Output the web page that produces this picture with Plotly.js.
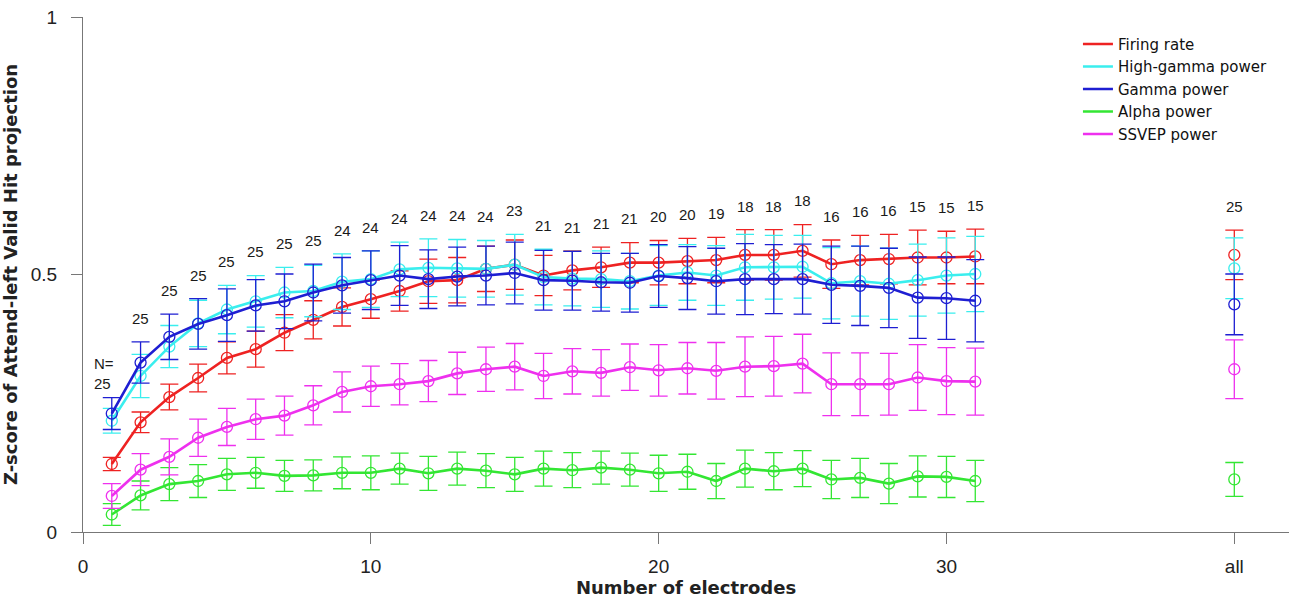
<!DOCTYPE html>
<html>
<head>
<meta charset="utf-8">
<script src="https://cdn.plot.ly/plotly-3.0.1.min.js"></script>
<style>html,body{margin:0;padding:0;background:#fff;}#chart{width:1289px;height:598px;}</style>
</head>
<body>
<div id="chart"></div>
<script>
// ---- data ----
var electrodes = [1,2,3,4,5,6,7,8,9,10,11,12,13,14,15,16,17,18,19,20,21,22,23,24,25,26,27,28,29,30,31];
var allX = 40;
var seriesNames = ['Firing rate','High-gamma power','Gamma power','Alpha power','SSVEP power'];
var seriesColors = ['#ee2222','#3aeeee','#1e1ed2','#33e633','#ee30ee'];

var firingMean = [0.132,0.213,0.262,0.299,0.338,0.355,0.387,0.412,0.437,0.452,0.468,0.487,0.489,0.511,0.519,0.498,0.508,0.514,0.523,0.523,0.526,0.528,0.538,0.538,0.546,0.520,0.528,0.530,0.533,0.533,0.535];
var firingErr  = [0.013,0.020,0.025,0.027,0.031,0.035,0.035,0.037,0.037,0.037,0.039,0.043,0.044,0.044,0.048,0.039,0.038,0.039,0.039,0.043,0.044,0.044,0.049,0.049,0.051,0.047,0.048,0.048,0.053,0.051,0.053];
var hgammaMean = [0.216,0.303,0.360,0.405,0.432,0.448,0.465,0.468,0.486,0.491,0.510,0.513,0.512,0.511,0.519,0.495,0.492,0.491,0.487,0.498,0.504,0.498,0.514,0.514,0.515,0.483,0.487,0.482,0.489,0.498,0.501];
var hgammaErr  = [0.024,0.042,0.041,0.045,0.047,0.050,0.049,0.050,0.054,0.055,0.053,0.056,0.056,0.055,0.059,0.054,0.053,0.055,0.054,0.058,0.054,0.058,0.064,0.062,0.061,0.069,0.068,0.069,0.070,0.073,0.073];
var gammaMean  = [0.230,0.329,0.379,0.404,0.421,0.440,0.448,0.465,0.479,0.489,0.498,0.491,0.496,0.498,0.503,0.489,0.488,0.485,0.484,0.497,0.493,0.487,0.491,0.491,0.491,0.480,0.478,0.474,0.455,0.454,0.449];
var gammaErr   = [0.031,0.040,0.044,0.049,0.051,0.050,0.053,0.055,0.054,0.057,0.058,0.057,0.057,0.057,0.060,0.058,0.057,0.056,0.057,0.061,0.061,0.064,0.069,0.067,0.068,0.075,0.077,0.077,0.079,0.080,0.080];
var alphaMean  = [0.034,0.071,0.093,0.099,0.112,0.115,0.109,0.110,0.115,0.115,0.123,0.114,0.123,0.119,0.112,0.123,0.120,0.125,0.121,0.114,0.117,0.099,0.123,0.118,0.123,0.102,0.105,0.094,0.108,0.107,0.099];
var alphaErr   = [0.021,0.028,0.032,0.032,0.031,0.030,0.030,0.030,0.031,0.033,0.030,0.033,0.032,0.033,0.033,0.034,0.034,0.032,0.032,0.035,0.034,0.034,0.036,0.036,0.035,0.037,0.038,0.039,0.040,0.040,0.040];
var ssvepMean  = [0.070,0.121,0.146,0.183,0.204,0.219,0.226,0.246,0.272,0.283,0.287,0.293,0.308,0.316,0.321,0.303,0.312,0.309,0.320,0.314,0.318,0.313,0.321,0.322,0.327,0.287,0.287,0.287,0.300,0.293,0.292];
var ssvepErr   = [0.024,0.031,0.035,0.036,0.036,0.039,0.038,0.038,0.039,0.039,0.040,0.040,0.041,0.043,0.045,0.044,0.044,0.045,0.045,0.050,0.050,0.055,0.058,0.058,0.057,0.061,0.061,0.060,0.064,0.065,0.065];

// "all" electrodes values
var allMean = [0.538,0.512,0.442,0.102,0.316];
var allErr  = [0.048,0.059,0.059,0.033,0.057];

// number of sessions per point
var nCounts = [25,25,25,25,25,25,25,25,24,24,24,24,24,24,23,21,21,21,21,20,20,19,18,18,18,16,16,16,15,15,15];
var nAll = 25;

var xTickVals = [0,10,20,30,40];
var xTickText = ['0','10','20','30','all'];
var yTickVals = [0,0.5,1];
var yTickText = ['0','0.5','1'];

// ---- build ----
var means = [firingMean,hgammaMean,gammaMean,alphaMean,ssvepMean];
var errs  = [firingErr,hgammaErr,gammaErr,alphaErr,ssvepErr];
var traces = [];
for (var s = 0; s < means.length; s++) {
  traces.push({
    x: electrodes, y: means[s], type: 'scatter', mode: 'lines',
    name: seriesNames[s], line: {color: seriesColors[s], width: 2.6},
    showlegend: true, hoverinfo: 'skip'
  });
  traces.push({
    x: electrodes.concat([allX]), y: means[s].concat([allMean[s]]),
    type: 'scatter', mode: 'markers', showlegend: false, name: seriesNames[s],
    marker: {symbol: 'circle-open', size: 11, color: seriesColors[s], line: {width: 1.3, color: seriesColors[s]}},
    error_y: {type: 'data', array: errs[s].concat([allErr[s]]), visible: true, color: seriesColors[s], thickness: 1.3, width: 9}
  });
}

var annotations = [];
var labelX = electrodes.concat([allX]);
var labelN = nCounts.concat([nAll]);
for (var i = 0; i < labelX.length; i++) {
  var maxTop = -1;
  for (var s2 = 0; s2 < means.length; s2++) {
    var m = (i < electrodes.length) ? means[s2][i] + errs[s2][i] : allMean[s2] + allErr[s2];
    if (m > maxTop) maxTop = m;
  }
  var txt = (i === 0) ? 'N=<br>' + labelN[i] : String(labelN[i]);
  annotations.push({
    x: labelX[i], y: maxTop + 0.046, xref: 'x', yref: 'y', text: txt, showarrow: false,
    xanchor: 'center', yanchor: 'middle', xshift: (i === 0 ? -8 : 0),
    align: 'left',
    font: {family: 'Liberation Sans, Arial, sans-serif', size: 15, color: '#1a1a1a'}
  });
}

var layout = {
  width: 1289, height: 598,
  margin: {l: 83, r: 0, t: 17, b: 66},
  paper_bgcolor: '#ffffff', plot_bgcolor: '#ffffff',
  showlegend: true,
  legend: {x: 0.825, y: 0.979, xanchor: 'left', yanchor: 'top', bgcolor: 'rgba(255,255,255,0)', borderwidth: 0,
           font: {family: 'DejaVu Sans, sans-serif', size: 15, color: '#111'}},
  xaxis: {
    range: [0, 41.9], tickmode: 'array', tickvals: xTickVals, ticktext: xTickText,
    ticks: 'outside', ticklen: 11, tickwidth: 1, tickcolor: '#777',
    showline: true, linecolor: '#777', linewidth: 1, showgrid: false, zeroline: false,
    tickfont: {family: 'Liberation Sans, Arial, sans-serif', size: 19, color: '#222'},
    ticklabelstandoff: 6,
    title: {text: 'Number of electrodes', standoff: 7, font: {family: 'DejaVu Sans, sans-serif', size: 18, color: '#222', weight: 'bold'}}
  },
  yaxis: {
    range: [0, 1], tickmode: 'array', tickvals: yTickVals, ticktext: yTickText,
    ticks: 'outside', ticklen: 11, tickwidth: 1, tickcolor: '#777',
    showline: true, linecolor: '#777', linewidth: 1, showgrid: false, zeroline: false,
    tickfont: {family: 'Liberation Sans, Arial, sans-serif', size: 19, color: '#222'},
    ticklabelstandoff: 10,
    title: {text: 'Z-score of Attend-left Valid Hit projection', standoff: 8, font: {family: 'DejaVu Sans, sans-serif', size: 18, color: '#222', weight: 'bold'}}
  },
  annotations: annotations
};

Plotly.newPlot('chart', traces, layout, {displayModeBar: false, responsive: false});
</script>
</body>
</html>
